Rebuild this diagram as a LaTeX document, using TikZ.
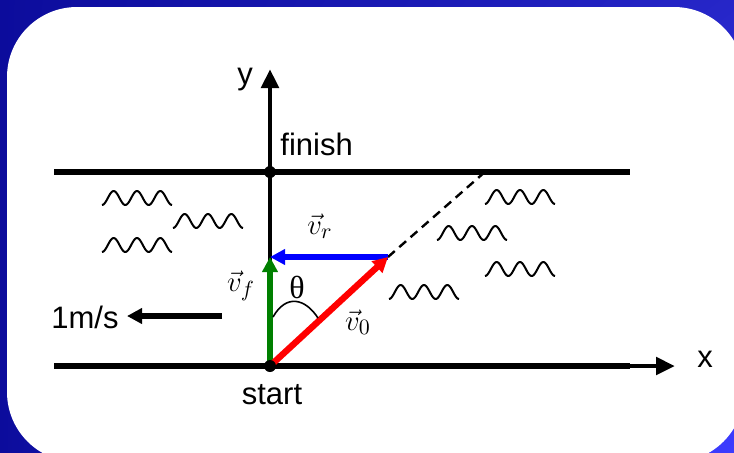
\documentclass[tikz,border=0pt]{standalone}
\usepackage{fontspec}
\setmainfont{Liberation Sans}
\newfontfamily\grkfont{Liberation Serif}
\usetikzlibrary{arrows.meta, shadings}
\definecolor{bgdark}{RGB}{12,12,156}
\definecolor{bgmid}{RGB}{38,38,200}
\definecolor{bglight}{RGB}{60,60,255}
\definecolor{vgreen}{RGB}{0,128,0}

\begin{document}
\begin{tikzpicture}[x=0.5pt, y=-0.5pt,
  bank/.style={line width=2.8pt},
  axis/.style={line width=2.4pt, -{Triangle[length=9.5pt,width=8.5pt]}},
  vel/.style={line width=2.8pt, -{Triangle[length=7.5pt,width=7.5pt]}},
  wave/.style={line width=1pt, line join=round},
  lbl/.style={font=\fontsize{15.5}{18}\selectfont, inner sep=0pt},
  dot/.style={fill=black}]
\useasboundingbox (0,0) rectangle (734,452);
\clip (0,0) rectangle (734,452);

% background
\shade[upper left=bgdark, lower left=bgdark, upper right=bgmid, lower right=bglight]
  (0,0) rectangle (734,452);
\fill[white, rounded corners=35pt] (7,7) rectangle (744,462);

% points
\coordinate (start) at (270,366);
\coordinate (finish) at (270,172);
\coordinate (ytop) at (270,69);
\coordinate (xend) at (675,366);
\coordinate (tip) at (388,257);
\coordinate (vtop) at (270,257);
\coordinate (shore) at (486,171);
\coordinate (flowA) at (222,316);
\coordinate (flowB) at (127,316);

% banks and axes
\draw[bank] (54,172) -- (630,172);
\draw[bank] (54,366) -- (630,366);
\draw[axis] (start) -- (xend);
\draw[axis] (start) -- (ytop);
\node[lbl, anchor=base] (xlbl) at (705,367) {x};
\node[lbl, anchor=base] (ylbl) at (245,84) {y};

% river flow
\foreach \px/\py in {102/198, 173/221, 102/245, 485/197, 437/233, 485/269, 389/292}
  \draw[wave, shift={(\px,\py)}] plot[domain=0:70, samples=60, smooth]
    (\x, {7*cos(\x*15.43)});
\draw[line width=2.8pt, -{Triangle[length=7.5pt,width=7.5pt]}] (flowA) -- (flowB);
\node[lbl, anchor=base west] (flowlbl) at (51,328) {1m/s};

% velocities
\draw[dashed, line width=1.2pt, dash pattern=on 4.5pt off 3pt] (tip) -- (shore);
\draw[vel, blue] (tip) -- (vtop);
\draw[vel, vgreen] (start) -- (vtop);
\draw[vel, red, line width=3.2pt] (start) -- (tip);
\draw[line width=0.8pt] (273,317) .. controls (286,294) and (305,298) .. (318,318);

\node[lbl] (vr) at (320,226) {$\vec{v}_r$};
\node[lbl] (vf) at (241,286) {$\vec{v}_f$};
\node[lbl] (v0) at (358,322) {$\vec{v}_0$};
\node[lbl, font=\fontsize{16}{18}\grkfont] (theta) at (297,287) {θ};

% start and finish
\fill[dot] (start) circle (3pt);
\fill[dot] (finish) circle (3pt);
\node[lbl, anchor=base west] (finishlbl) at (280,155) {finish};
\node[lbl, anchor=base] (startlbl) at (272,404) {start};
\end{tikzpicture}
\end{document}
